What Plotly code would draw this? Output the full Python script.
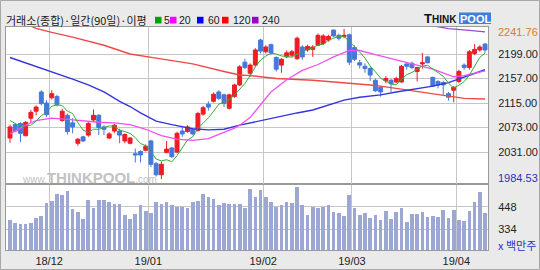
import plotly.graph_objects as go
import numpy as np

# ---------------- data ----------------
opens = [2055, 2078, 2080, 2059, 2089, 2101, 2134, 2115, 2124, 2126,
         2085, 2094, 2081, 2046, 2057, 2060, 2086, 2094, 2074, 2055,
         2067, 2067, 2050, 2046, 2028, 2032, 2034, 2050, 2011, 1992,
         2030, 2038, 2031, 2067, 2066, 2070, 2068, 2096, 2113, 2118,
         2134, 2129, 2106, 2126, 2146, 2185, 2166, 2180, 2223, 2203,
         2215, 2193, 2180, 2194, 2197, 2191, 2211, 2206, 2207, 2214,
         2217, 2223, 2240, 2231, 2229, 2232, 2210, 2184, 2178, 2174,
         2154, 2142, 2153, 2154, 2151, 2151, 2182, 2183, 2169, 2182,
         2194, 2159, 2152, 2150, 2131, 2137, 2152, 2180, 2176, 2200,
         2206, 2216]
highs = [2078, 2080, 2082, 2084, 2103, 2111, 2137, 2120, 2137, 2129,
         2105, 2097, 2089, 2055, 2059, 2083, 2104, 2096, 2077, 2065,
         2079, 2071, 2063, 2057, 2037, 2034, 2044, 2052, 2014, 2015,
         2050, 2040, 2066, 2073, 2077, 2071, 2100, 2110, 2118, 2133,
         2137, 2131, 2131, 2148, 2180, 2191, 2183, 2209, 2225, 2214,
         2217, 2195, 2192, 2205, 2206, 2229, 2214, 2215, 2214, 2234,
         2233, 2232, 2241, 2234, 2241.76, 2234, 2214, 2189, 2183, 2177,
         2157, 2144, 2161, 2156, 2160, 2180, 2183, 2186, 2177, 2201,
         2196, 2160, 2154, 2153, 2134, 2144, 2172, 2183, 2206, 2216,
         2214, 2218]
lows = [2047, 2065, 2048, 2058, 2082, 2094, 2111, 2091, 2121, 2109,
        2083, 2061, 2063, 2042, 2048, 2057, 2083, 2060, 2060, 2053,
        2064, 2046, 2046, 2044, 2013, 2013, 2032, 2005, 1989, 1984.53,
        2029, 2021, 2029, 2057, 2064, 2060, 2066, 2093, 2102, 2116,
        2120, 2108, 2104, 2124, 2144, 2173, 2160, 2177, 2200, 2200,
        2198, 2169, 2167, 2192, 2194, 2189, 2189, 2203, 2194, 2213,
        2215, 2220, 2228, 2222, 2226, 2180, 2187, 2174, 2167, 2153,
        2134, 2126, 2149, 2134, 2149, 2150, 2172, 2173, 2152, 2174,
        2183, 2143, 2140, 2129, 2119, 2116, 2149, 2172, 2172, 2197,
        2203, 2201]
closes = [2074, 2067, 2063, 2082, 2099, 2108, 2114, 2095, 2131, 2112,
          2101, 2066, 2074, 2053, 2050, 2080, 2094, 2073, 2070, 2062,
          2077, 2060, 2061, 2055, 2026, 2026, 2041, 2010, 1992, 2010,
          2036, 2023, 2063, 2062, 2074, 2062, 2097, 2107, 2108, 2130,
          2123, 2114, 2129, 2146, 2177, 2176, 2180, 2206, 2204, 2211,
          2201, 2173, 2190, 2201, 2203, 2226, 2194, 2212, 2211, 2231,
          2230, 2229, 2230, 2226, 2231, 2185, 2190, 2180, 2174, 2163,
          2136, 2134, 2157, 2148, 2157, 2178, 2178, 2176, 2176, 2184,
          2184, 2144, 2146, 2146, 2125, 2142, 2169, 2176, 2203, 2207,
          2211, 2206]
volumes = [380, 366, 358, 361, 366, 389, 402, 465, 477, 513,
           508, 530, 436, 422, 384, 482, 443, 482, 482, 470,
           463, 463, 406, 387, 411, 455, 428, 414, 472, 460,
           472, 457, 448, 448, 440, 472, 477, 513, 496, 487,
           455, 465, 460, 462, 460, 440, 538, 499, 533, 499,
           470, 448, 458, 470, 465, 550, 457, 406, 448, 441,
           448, 458, 419, 414, 400, 508, 440, 407, 414, 392,
           406, 380, 426, 387, 422, 440, 370, 411, 411, 422,
           397, 400, 397, 431, 392, 431, 380, 375, 426, 472,
           521, 414]

# moving averages (read at sample candles)
ma5_head = [2085, 2080, 2075, 2076]
ma20_idx = [0, 3, 5, 8, 11, 14, 17, 20, 23, 26, 29, 32, 35, 38, 41, 43, 44,
            46, 48, 50, 53, 56, 59, 62, 65, 67, 70, 75, 78, 81, 84, 85, 87, 89, 91]
ma20_val = [2062, 2077, 2085, 2089, 2087, 2084, 2082, 2081, 2078, 2070, 2059,
            2053, 2051, 2054, 2064, 2072, 2077, 2090, 2112, 2134, 2155, 2171,
            2181, 2194, 2205, 2205, 2198, 2186, 2180, 2173, 2163, 2160, 2162,
            2166, 2170]
ma60_idx = [0, 2, 5, 9, 12, 15, 18, 21, 23, 25, 28, 31, 35, 38, 41, 44, 46,
            48, 51, 55, 58, 61, 64, 67, 69, 71, 74, 78, 81, 84, 87, 91]
ma60_val = [2193, 2187, 2178, 2166, 2156, 2146, 2134, 2118, 2109, 2098, 2084,
            2078, 2071, 2069, 2070, 2077, 2081, 2085, 2090, 2098, 2103, 2112,
            2120, 2125, 2127, 2129, 2134, 2139, 2144, 2150, 2160, 2172]
ma120_idx = [0, 5, 8, 12, 18, 23, 28, 35, 41, 44, 46, 51, 58, 64, 69, 71, 74,
             78, 81, 84, 87, 91]
ma120_val = [2262, 2243, 2236, 2228, 2214, 2199, 2192, 2182, 2169, 2163, 2162,
             2157, 2154, 2150, 2146, 2144, 2140, 2135, 2131, 2126, 2123, 2122]
ma240_idx = [78, 84, 88, 91]
ma240_val = [2252, 2242.5, 2239.5, 2237]

month_pos = [7.5, 26.5, 48.5, 65.5, 85.5]
month_labels = ["18/12", "19/01", "19/02", "19/03", "19/04"]
price_ticks = [2199, 2157, 2115, 2073, 2031]
vol_ticks = [448, 334]
price_max_label = "2241.76"
price_min_label = "1984.53"
title_text = "거래소(종합)·일간(90일)·이평"
ma_names = ["5", "20", "60", "120", "240"]

# ---------------- figure ----------------
W, H = 540, 270
L, R, T, B = 6, 52, 27, 20
PW, PH = W - L - R, H - T - B


def px(x):
    return (x - L) / PW


def py(y):
    return (H - B - y) / PH


split = py(184)
x = np.arange(len(closes))
close_s = np.array(closes, dtype=float)
ma5 = np.convolve(close_s, np.ones(5) / 5, mode="valid")
ma5_full = np.concatenate([np.array(ma5_head, dtype=float), ma5])

fig = go.Figure()

# volume
fig.add_trace(go.Bar(x=x, y=volumes, base=0, width=0.7,
                     marker=dict(color="#9CA7D3", line=dict(width=0)),
                     xaxis="x", yaxis="y", showlegend=False, hoverinfo="skip"))

# MAs
ma_style = dict(mode="lines", xaxis="x2", yaxis="y2", showlegend=False, hoverinfo="skip")
fig.add_trace(go.Scatter(x=ma240_idx, y=ma240_val, line=dict(color="#A048D0", width=1.3), **ma_style))
fig.add_trace(go.Scatter(x=ma120_idx, y=ma120_val, line=dict(color="#F04848", width=1.4), **ma_style))
fig.add_trace(go.Scatter(x=ma60_idx, y=ma60_val, line=dict(color="#3434E0", width=1.4), **ma_style))
fig.add_trace(go.Scatter(x=ma20_idx, y=ma20_val, line=dict(color="#F050F0", width=1.3), **ma_style))
fig.add_trace(go.Scatter(x=x, y=ma5_full, line=dict(color="#3AAA3A", width=1), **ma_style))

# candles
fig.add_trace(go.Candlestick(
    x=x, open=opens, high=highs, low=lows, close=closes,
    increasing=dict(fillcolor="#EE1C24", line=dict(color="#EE1C24", width=1)),
    decreasing=dict(fillcolor="#4478DC", line=dict(color="#4478DC", width=1)),
    whiskerwidth=0, xaxis="x2", yaxis="y2", showlegend=False, hoverinfo="skip"))

grid = "#C6C6C6"
frame = "#9A9A9A"
numfont = "Liberation Sans, Arial"
tickfont = dict(family=numfont, size=11, color="#222222")
xr = [(6 - 10) / 5.22, (488 - 10) / 5.22]

fig.update_layout(
    width=W, height=H, margin=dict(l=L, r=R, t=T, b=B, autoexpand=False),
    paper_bgcolor="#EAEAEA", plot_bgcolor="#FFFFFF",
    showlegend=False, bargap=0, boxgap=0.25, boxgroupgap=0,
    xaxis=dict(domain=[0, 1], anchor="y", range=xr, tickmode="array",
               tickvals=month_pos, ticktext=month_labels, showgrid=True,
               gridcolor=grid, gridwidth=1, zeroline=False, showline=True,
               mirror=True, linecolor=frame, ticks="", tickfont=tickfont,
               ticklabelstandoff=1, rangeslider=dict(visible=False), automargin=False),
    xaxis2=dict(domain=[0, 1], anchor="y2", matches="x", range=xr, tickmode="array",
                tickvals=month_pos, showticklabels=False, showgrid=True,
                gridcolor=grid, gridwidth=1, zeroline=False, showline=True,
                mirror=True, linecolor=frame, ticks="",
                rangeslider=dict(visible=False), automargin=False),
    yaxis=dict(domain=[0, split], range=[226.7, 564], side="right",
               tickmode="array", tickvals=vol_ticks, ticktext=[str(v) for v in vol_ticks],
               showgrid=True, gridcolor=grid, zeroline=False, showline=True,
               mirror=True, linecolor=frame, ticks="", tickfont=tickfont,
               ticklabelstandoff=7, automargin=False),
    yaxis2=dict(domain=[split, 1], range=[1976.2, 2245.3], side="right",
                tickmode="array", tickvals=price_ticks,
                ticktext=["%.2f" % v for v in price_ticks],
                showgrid=True, gridcolor=grid, zeroline=False, showline=True,
                mirror=True, linecolor=frame, ticks="", tickfont=tickfont,
                ticklabelstandoff=7, automargin=False),
)

ann = []
kr = "Noto Sans CJK KR"
ann.append(dict(x=px(4), y=py(19.5), xref="paper", yref="paper", xanchor="left",
                yanchor="middle", text=title_text, showarrow=False,
                font=dict(family=kr, size=11, color="#1a1a1a")))
sq_colors = ["#00A000", "#FF00FF", "#0000FF", "#FF0000", "#9900CC"]
sq_x = [155, 170, 197, 222, 252]
txt_x = [162, 177, 205.5, 230.5, 259.5]
shapes = []
for c, sx, tx, nm in zip(sq_colors, sq_x, txt_x, ma_names):
    shapes.append(dict(type="rect", xref="paper", yref="paper",
                       x0=px(sx), x1=px(sx + 6.5), y0=py(23.5), y1=py(16.8),
                       fillcolor=c, line=dict(width=0)))
    ann.append(dict(x=px(tx), y=py(20), xref="paper", yref="paper", xanchor="left",
                    yanchor="middle", text=nm, showarrow=False,
                    font=dict(family=numfont, size=10.5, color="#1a1a1a")))

# logo
shapes.append(dict(type="rect", xref="paper", yref="paper", x0=px(459), x1=px(491),
                   y0=py(24), y1=py(12.5), fillcolor="#3F7FDC", line=dict(width=0)))
ann.append(dict(x=px(458.5), y=py(18.5), xref="paper", yref="paper", xanchor="right",
                yanchor="middle", text="<b>T<span style='font-size:10px'>HINK</span></b>",
                showarrow=False, font=dict(family="Liberation Sans", size=13, color="#111111")))
ann.append(dict(x=px(475), y=py(18.5), xref="paper", yref="paper", xanchor="center",
                yanchor="middle", text="<b>POOL</b>", showarrow=False,
                font=dict(family="Liberation Sans", size=11, color="#FFFFFF")))

# watermark
ann.append(dict(x=px(20), y=py(177), xref="paper", yref="paper", xanchor="left",
                yanchor="middle",
                text="www.<b><span style='font-size:15px'>THINKPOOL</span></b>.com",
                showarrow=False, font=dict(family="Liberation Sans", size=10, color="#C2C2C2")))

# max / min labels, unit
ann.append(dict(x=px(496), y=py(32), xref="paper", yref="paper", xanchor="left",
                yanchor="middle", text=price_max_label, showarrow=False,
                font=dict(family=numfont, size=11, color="#E07A22")))
ann.append(dict(x=px(496), y=py(178), xref="paper", yref="paper", xanchor="left",
                yanchor="middle", text=price_min_label, showarrow=False,
                font=dict(family=numfont, size=11, color="#2233CC")))
ann.append(dict(x=px(496), y=py(245), xref="paper", yref="paper", xanchor="left",
                yanchor="middle", text="x 백만주", showarrow=False,
                font=dict(family=kr, size=11, color="#2233CC")))

# outer frame
shapes.append(dict(type="rect", xref="paper", yref="paper", x0=px(0.5), x1=px(539.5),
                   y0=py(269.5), y1=py(0.5), line=dict(color="#A8A8A8", width=1),
                   fillcolor="rgba(0,0,0,0)", layer="below"))

fig.update_layout(annotations=ann, shapes=shapes)
fig.write_html("out.html")
